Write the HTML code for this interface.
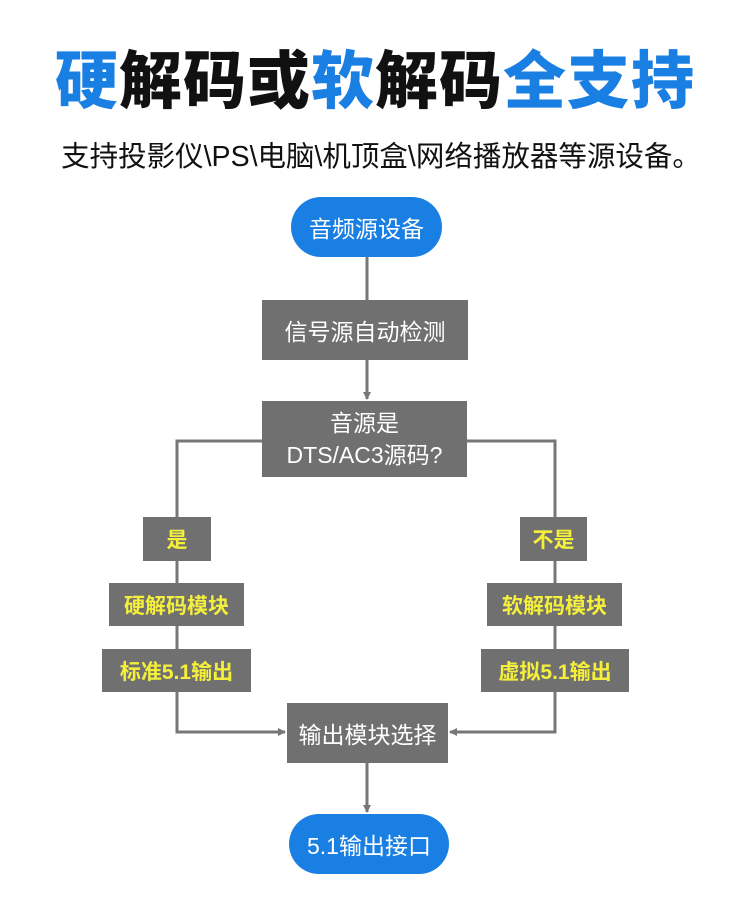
<!DOCTYPE html>
<html><head><meta charset="utf-8"><style>
body{margin:0;width:750px;height:897px;background:#fff;position:relative;overflow:hidden;font-family:"Liberation Sans","Noto Sans CJK SC",sans-serif}
.a{position:absolute;display:flex;align-items:center;justify-content:center;box-sizing:border-box;text-align:center}
.g{background:#707070;color:#fff;font-size:23px}
.y{background:#707070;color:#f4ef3a;font-size:21px;font-weight:bold}
.p{background:#1a7fe3;color:#fff;font-size:23px;border-radius:30px}
.b{color:#1a7fe3}
</style></head><body>
<div class="a" style="left:0;top:38px;width:750px;height:76px;font-size:63px;font-weight:900;color:#111;letter-spacing:1px"><span><span class="b">硬</span>解码或<span class="b">软</span>解码<span class="b">全支持</span></span></div>
<div class="a" style="left:0;top:134px;width:762px;height:40px;font-size:28.5px;color:#111">支持投影仪\PS\电脑\机顶盒\网络播放器等源设备。</div>
<svg style="position:absolute;left:0;top:0" width="750" height="897">
<defs><marker id="m" markerWidth="8" markerHeight="8" refX="7" refY="4" orient="auto" markerUnits="userSpaceOnUse"><path d="M0,0L8,4L0,8z" fill="#777"/></marker></defs>
<g stroke="#777" stroke-width="3" fill="none">
<line x1="367" y1="257" x2="367" y2="300"/>
<line x1="367" y1="360" x2="367" y2="399" marker-end="url(#m)"/>
<polyline points="262,441 177,441 177,732 285,732" marker-end="url(#m)"/>
<polyline points="467,441 555,441 555,732 450,732" marker-end="url(#m)"/>
<line x1="367" y1="763" x2="367" y2="812" marker-end="url(#m)"/>
</g></svg>
<div class="a p" style="left:291px;top:197px;width:151px;height:60px">音频源设备</div>
<div class="a g" style="left:262px;top:300px;width:206px;height:60px">信号源自动检测</div>
<div class="a g" style="left:262px;top:401px;width:205px;height:76px;line-height:32px">音源是<br>DTS/AC3源码?</div>
<div class="a y" style="left:143px;top:517px;width:68px;height:44px">是</div>
<div class="a y" style="left:520px;top:517px;width:67px;height:44px">不是</div>
<div class="a y" style="left:109px;top:583px;width:135px;height:43px">硬解码模块</div>
<div class="a y" style="left:487px;top:583px;width:135px;height:43px">软解码模块</div>
<div class="a y" style="left:102px;top:649px;width:149px;height:43px">标准5.1输出</div>
<div class="a y" style="left:481px;top:649px;width:148px;height:43px">虚拟5.1输出</div>
<div class="a g" style="left:287px;top:703px;width:161px;height:60px">输出模块选择</div>
<div class="a p" style="left:289px;top:814px;width:160px;height:60px">5.1输出接口</div>
</body></html>
